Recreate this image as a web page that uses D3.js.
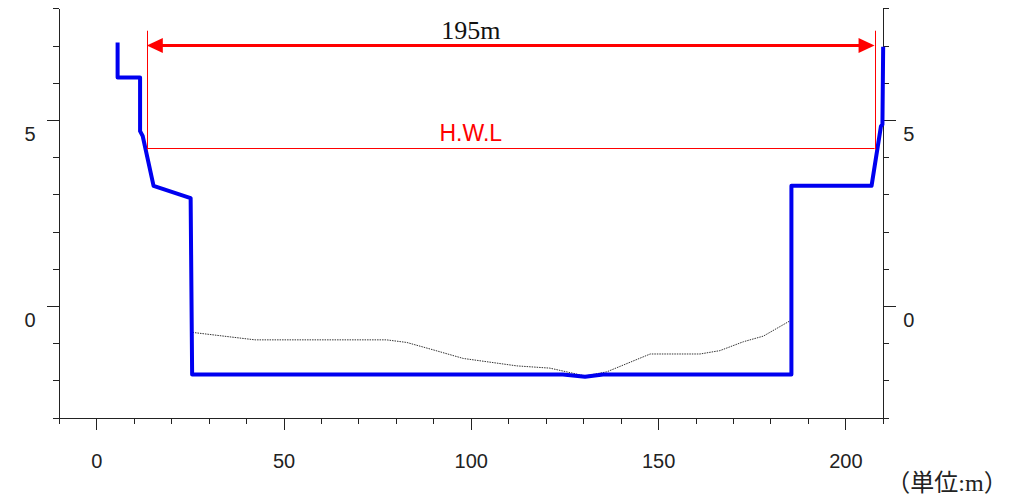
<!DOCTYPE html>
<html>
<head>
<meta charset="utf-8">
<script src="https://cdn.jsdelivr.net/npm/d3@7"></script>
<style>
  body { margin: 0; background: #fff; }
  svg { display: block; }
  .axis path, .axis line { stroke: #222; shape-rendering: crispEdges; }
  .axis text { font-family: "Liberation Sans", Arial, sans-serif; font-size: 20px; fill: #222; }
</style>
</head>
<body>
<div id="chart"></div>
<script>
// river cross section (distance m, elevation m)
const bankX = [5.7, 5.7, 11.7, 11.7, 12.4, 15.3, 25.2, 25.6, 124.6, 130.5, 135.3, 185.6, 185.6, 207.0, 209.5, 209.9, 210.1]
const bankY = [7.08, 6.14, 6.14, 4.70, 4.57, 3.23, 2.90, -1.84, -1.84, -1.90, -1.84, -1.84, 3.23, 3.23, 4.83, 4.88, 6.97]

// existing river bed (thin dotted)
const bedX = [25.7, 42.4, 77.5, 82.9, 90.0, 98.0, 112.3, 121.1, 130.5, 136.3, 147.9, 161.2, 166.5, 172.8, 178.1, 185.2]
const bedY = [-0.71, -0.91, -0.91, -0.98, -1.18, -1.41, -1.61, -1.67, -1.88, -1.77, -1.29, -1.29, -1.20, -0.96, -0.81, -0.40]

// high water level and width dimension
const hwl = 4.26
const hwlLabel = 'H.W.L'
const spanX = [13.5, 207.8]
const spanY = 7.0
const spanTop = 7.4
const spanLabel = '195m'
const labelX = 100 // both labels sit over x = 100

// axes
const xTicks = d3.range(-10, 211, 10)
const xLabels = [0, 50, 100, 150, 200]
const yTicks = d3.range(-3, 9, 1)
const yLabels = [0, 5]
const unitLabel = '（単位:m）'

const width = 1014
const height = 498

const x = d3.scaleLinear().domain([-10, 210]).range([58.8, 882.8])
const y = d3.scaleLinear().domain([-3, 8]).range([417.6, 8.4])

const svg = d3.select('#chart').append('svg')
  .attr('width', width)
  .attr('height', height)

// bottom axis
const gx = svg.append('g')
  .attr('class', 'axis')
  .attr('transform', 'translate(0,' + y(-3) + ')')
  .call(d3.axisBottom(x).tickValues(xTicks).tickSize(6).tickSizeOuter(0)
    .tickFormat(d => xLabels.includes(d) ? d : ''))
gx.selectAll('.tick line').filter(d => d % 50 === 0).attr('y2', 12)
gx.selectAll('.tick text').attr('y', 50).attr('dy', 0)

// left axis
const gyl = svg.append('g')
  .attr('class', 'axis')
  .attr('transform', 'translate(' + x(-10) + ',0)')
  .call(d3.axisLeft(y).tickValues(yTicks).tickSize(6).tickSizeOuter(0)
    .tickFormat(d => yLabels.includes(d) ? d : ''))
gyl.selectAll('.tick line').filter(d => yLabels.includes(d)).attr('x2', -12)
gyl.selectAll('.tick text').attr('x', -28.8).attr('dy', 20).attr('text-anchor', 'middle')

// right axis
const gyr = svg.append('g')
  .attr('class', 'axis')
  .attr('transform', 'translate(' + x(210) + ',0)')
  .call(d3.axisRight(y).tickValues(yTicks).tickSize(6).tickSizeOuter(0)
    .tickFormat(d => yLabels.includes(d) ? d : ''))
gyr.selectAll('.tick line').filter(d => yLabels.includes(d)).attr('x2', 13)
gyr.selectAll('.tick text').attr('x', 26).attr('dy', 20).attr('text-anchor', 'middle')

const line = d3.line().x(d => x(d[0])).y(d => y(d[1]))

// river bed
svg.append('path')
  .datum(d3.zip(bedX, bedY))
  .attr('d', line)
  .attr('fill', 'none')
  .attr('stroke', '#333')
  .attr('stroke-width', 1)
  .attr('stroke-dasharray', '1.5,1')

// planned section
svg.append('path')
  .datum(d3.zip(bankX, bankY))
  .attr('d', line)
  .attr('fill', 'none')
  .attr('stroke', '#0000f0')
  .attr('stroke-width', 4)
  .attr('stroke-linejoin', 'round')

// H.W.L
const hy = Math.round(y(hwl)) + 0.5
svg.append('line')
  .attr('x1', x(spanX[0])).attr('x2', x(spanX[1]))
  .attr('y1', hy).attr('y2', hy)
  .attr('stroke', '#ff0000')
  .attr('stroke-width', 1)

svg.append('text')
  .attr('x', x(labelX))
  .attr('y', hy - 8)
  .attr('text-anchor', 'middle')
  .attr('font-family', '"Liberation Sans", Arial, sans-serif')
  .attr('font-size', 23)
  .attr('fill', '#ff0000')
  .text(hwlLabel)

// width dimension
spanX.forEach(function (v) {
  const vx = Math.round(x(v)) + 0.5
  svg.append('line')
    .attr('x1', vx).attr('x2', vx)
    .attr('y1', y(spanTop)).attr('y2', hy + 1)
    .attr('stroke', '#ff0000')
    .attr('stroke-width', 1)
})

const ax0 = x(spanX[0])
const ax1 = x(spanX[1])
const ay = y(spanY)
const headLen = 16
const headHalf = 7.5

svg.append('line')
  .attr('x1', ax0 + headLen - 1).attr('x2', ax1 - headLen + 1)
  .attr('y1', ay).attr('y2', ay)
  .attr('stroke', '#ff0000')
  .attr('stroke-width', 3)

svg.append('path')
  .attr('d', 'M' + ax0 + ',' + ay + 'L' + (ax0 + headLen) + ',' + (ay - headHalf) + 'L' + (ax0 + headLen) + ',' + (ay + headHalf) + 'Z')
  .attr('fill', '#ff0000')

svg.append('path')
  .attr('d', 'M' + ax1 + ',' + ay + 'L' + (ax1 - headLen) + ',' + (ay - headHalf) + 'L' + (ax1 - headLen) + ',' + (ay + headHalf) + 'Z')
  .attr('fill', '#ff0000')

svg.append('text')
  .attr('x', x(labelX))
  .attr('y', ay - 7)
  .attr('text-anchor', 'middle')
  .attr('font-family', '"Liberation Serif", "DejaVu Serif", serif')
  .attr('font-size', 26)
  .attr('fill', '#111')
  .text(spanLabel)

// unit
svg.append('text')
  .attr('x', 947)
  .attr('y', 491)
  .attr('text-anchor', 'middle')
  .attr('font-family', '"Liberation Serif", "Noto Sans CJK JP", serif')
  .attr('font-size', 24)
  .attr('fill', '#222')
  .text(unitLabel)
</script>
</body>
</html>
